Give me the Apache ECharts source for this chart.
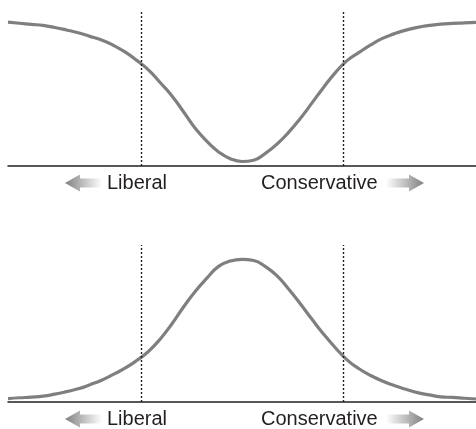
<!DOCTYPE html>
<html>
<head>
<meta charset="utf-8">
<style>
html, body { margin: 0; padding: 0; background: #fff; }
#main { width: 476px; height: 429px; }
</style>
<script src="https://cdn.jsdelivr.net/npm/echarts@6/dist/echarts.min.js"></script>
</head>
<body>
<div id="main"></div>
<script>
// ideology position, 0 = far left, 100 = far right
var positions = [0, 2.5, 5, 7.5, 10, 12.5, 15, 17.5, 20, 22.5, 25, 27.5, 30, 32.5, 35, 37.5, 40, 42.5, 45, 47.5,
	50, 52.5, 55, 57.5, 60, 62.5, 65, 67.5, 70, 72.5, 75, 77.5, 80, 82.5, 85, 87.5, 90, 92.5, 95, 97.5, 100];
// upper panel: dip in the middle
var topValues = [92.2, 91.5, 90.8, 90.1, 88.8, 87.2, 85.4, 83.1, 80.8, 77.4, 73.1, 67.7, 61.6, 53.5, 45.1, 34.8, 24.2, 15.8, 9.0, 4.7,
	2.9, 3.7, 8.1, 14.1, 21.7, 30.6, 40.6, 50.7, 60.0, 67.7, 72.8, 77.6, 81.8, 84.7, 87.1, 88.9, 90.1, 91.0, 91.4, 91.7, 92.1];
// lower panel: bell in the middle
var bottomValues = [2.2, 2.7, 3.1, 3.7, 5.0, 6.6, 8.4, 11.0, 13.9, 17.6, 21.5, 26.4, 32.2, 40.0, 49.7, 60.5, 70.4, 78.9, 86.4, 89.8,
	90.9, 90.1, 86.2, 80.3, 71.8, 62.4, 52.5, 43.0, 34.4, 26.7, 21.2, 16.9, 13.4, 10.5, 8.1, 6.0, 4.5, 3.3, 2.9, 2.4, 1.9];
// dotted cut-offs
var cutoffs = [28.4, 71.6];
var labels = ['Liberal', 'Conservative'];

function pairs(vals) {
	return positions.map(function(p, i) { return [p, vals[i]]; });
}

function cutLines() {
	return {
		silent: true,
		symbol: ['none', 'none'],
		label: { show: false },
		lineStyle: { type: [2, 2], color: '#222', width: 1.4 },
		data: cutoffs.map(function(c) { return { xAxis: c }; })
	};
}

// arrows for the labels
function arrow(dir, x0, x1, cy) {
	var headLen = 15, headH = 17, shaftH = 9;
	var pts;
	if (dir < 0) {
		pts = [[x0, cy], [x0 + headLen, cy - headH / 2], [x0 + headLen, cy - shaftH / 2],
			[x1, cy - shaftH / 2], [x1, cy + shaftH / 2], [x0 + headLen, cy + shaftH / 2],
			[x0 + headLen, cy + headH / 2]];
	} else {
		pts = [[x1, cy], [x1 - headLen, cy - headH / 2], [x1 - headLen, cy - shaftH / 2],
			[x0, cy - shaftH / 2], [x0, cy + shaftH / 2], [x1 - headLen, cy + shaftH / 2],
			[x1 - headLen, cy + headH / 2]];
	}
	return {
		type: 'polygon',
		shape: { points: pts },
		style: {
			fill: {
				type: 'linear', x: 0, y: 0, x2: 1, y2: 0,
				colorStops: dir < 0 ?
					[{ offset: 0, color: '#808080' }, { offset: 1, color: '#ffffff' }] :
					[{ offset: 0, color: '#ffffff' }, { offset: 1, color: '#808080' }]
			}
		}
	};
}

function labelRow(cy) {
	return [
		arrow(-1, 65, 102, cy),
		{ type: 'text', x: 107, y: cy, style: { text: labels[0], fill: '#231f20', font: '20px "Liberation Sans", Arial, sans-serif', verticalAlign: 'middle' } },
		{ type: 'text', x: 261, y: cy, style: { text: labels[1], fill: '#231f20', font: '20px "Liberation Sans", Arial, sans-serif', verticalAlign: 'middle' } },
		arrow(1, 386, 424, cy)
	];
}

var chart = echarts.init(document.getElementById('main'));

chart.setOption({
	animation: false,
	backgroundColor: '#fff',
	grid: [
		{ left: 8, right: 0, top: 10, height: 156 },
		{ left: 8, right: 0, top: 245, height: 157 }
	],
	xAxis: [0, 1].map(function(i) {
		return {
			type: 'value', gridIndex: i, min: 0, max: 100,
			axisLine: { show: true, lineStyle: { color: '#231f20', width: 1.5 } },
			axisTick: { show: false },
			axisLabel: { show: false },
			splitLine: { show: false }
		};
	}),
	yAxis: [0, 1].map(function(i) {
		return {
			type: 'value', gridIndex: i, min: 0, max: 100,
			show: false,
			splitLine: { show: false }
		};
	}),
	series: [{
		type: 'line',
		xAxisIndex: 0,
		yAxisIndex: 0,
		data: pairs(topValues),
		smooth: true,
		showSymbol: false,
		lineStyle: { color: '#7f7f7f', width: 3.2 },
		markLine: cutLines(),
		z: 3
	}, {
		type: 'line',
		xAxisIndex: 1,
		yAxisIndex: 1,
		data: pairs(bottomValues),
		smooth: true,
		showSymbol: false,
		lineStyle: { color: '#7f7f7f', width: 3.2 },
		markLine: cutLines(),
		z: 3
	}],
	graphic: labelRow(183).concat(labelRow(419))
});
</script>
</body>
</html>
